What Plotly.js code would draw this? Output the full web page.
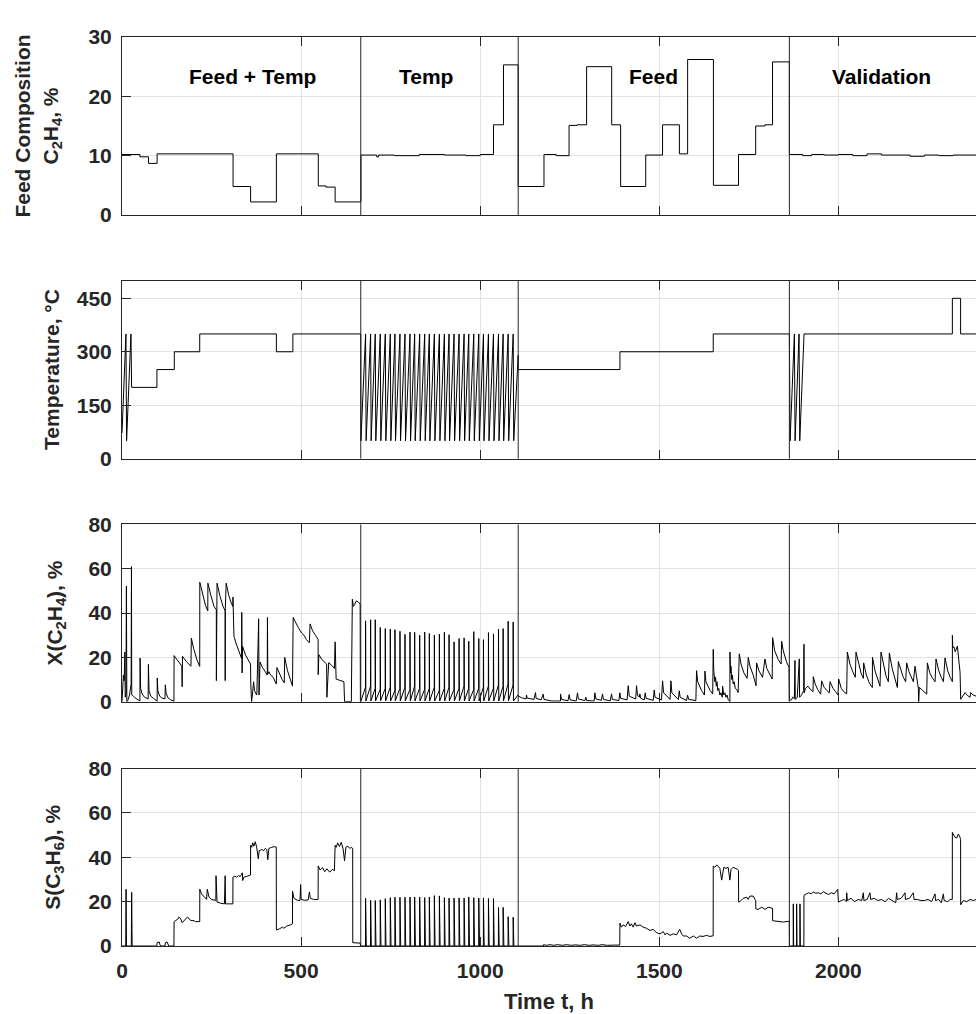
<!DOCTYPE html>
<html><head><meta charset="utf-8">
<script src="https://cdn.plot.ly/plotly-3.0.1.min.js"></script>
<style>html,body{margin:0;padding:0;background:#fff}#chart{width:976px;height:1014px}</style>
</head><body><div id="chart"></div>
<script>
// ---------- phases ----------
const phaseBounds = [666.5, 1106, 1863];
const phaseLabels = ['Feed + Temp', 'Temp', 'Feed', 'Validation'];
const phaseLabelTime = [364, 850, 1483, 2121];
const xTicks = [0, 500, 1000, 1500, 2000];

// ---------- panel 1: feed composition C2H4 (%), step changes [t, value] ----------
const feedComp = [[0,10.2],[50,9.8],[74,8.7],[98,10.3],[310,4.8],[359,2.2],[431,10.3],[548,4.9],[569,4.7],[595,2.2],
 [667,10.1],[711,9.8],[716,10.1],[760,10.0],[830,10.2],[900,10.1],[960,10.0],[1000,10.2],[1037,15.2],[1065,25.3],
 [1106,4.8],[1178,10.2],[1212,10.0],[1248,15.1],[1270,15.2],[1297,25.0],[1367,15.2],[1392,4.8],[1462,10.1],[1509,15.2],
 [1556,10.3],[1579,26.2],[1651,5.0],[1721,10.2],[1769,15.0],[1795,15.2],[1816,25.8],
 [1863,10.2],[1900,10.0],[1925,10.2],[1960,10.1],[2000,10.2],[2040,10.0],[2080,10.3],[2120,10.1],[2160,10.1],[2200,9.9],
 [2240,10.1],[2280,10.0],[2320,10.1],[2384,10.1]];

// ---------- panel 2: temperature (°C) ----------
const tempFeedTemp = [[0,72],[11,350],[12.8,50],[25,350],[26.8,200],[97.5,200],[97.5,250],[146,250],[146,300],[217,300],
 [217,350],[431,350],[431,300],[477,300],[477,350],[666.5,350]];
const tempTemp = [[667,50],[680,350],[681.5,50],[694,350],[695.5,50],[707,350],[708.5,50],[721,350],[722.5,50],[735,350],[736.5,50],
 [749,350],[750.5,50],[762,350],[763.5,50],[776,350],[777.5,50],[790,350],[791.5,50],[804,350],[805.5,50],[817,350],[818.5,50],
 [831,350],[832.5,50],[845,350],[846.5,50],[858,350],[859.5,50],[872,350],[873.5,50],[886,350],[887.5,50],[900,350],[901.5,50],
 [913,350],[914.5,50],[927,350],[928.5,50],[941,350],[942.5,50],[955,350],[956.5,50],[968,350],[969.5,50],[982,350],[983.5,50],
 [996,350],[997.5,50],[1009,350],[1010.5,50],[1023,350],[1024.5,50],[1037,350],[1038.5,50],[1051,350],[1052.5,50],
 [1064,350],[1065.5,50],[1078,350],[1079.5,50],[1092,350],[1093.5,50],[1106,290]];
const tempFeed = [[1106,250],[1390,250],[1390,300],[1650.5,300],[1650.5,350],[1863,350]];
const tempValid = [[1865,50],[1877,350],[1879,50],[1890,350],[1892,50],[1904,350],[2318,350],[2318,450],[2341,450],[2341,350],[2384,350]];

// ---------- panel 3: conversion X(C2H4) (%) ----------
const convFeedTemp = [[0,0],[2,10],[4,12],[6,9.5],[8,22.4],[9,2],[11,3],[12.3,52.2],[13.5,0],[16,0.5],[21,3],[25.5,8],[26.4,61],
 [27.2,3],[30,2.8],[36,1.8],[45,0.8],[50,0.3],[50.5,19.7],[52,6],[56,3.5],[63,2],[73,1.2],[73.7,16.8],[75.5,5],[80,2.5],[88,1.5],
 [95,0.3],[98,0.2],[98.4,10.7],[100,5],[105,2.5],[112,1.6],[120,1.3],[120.9,7.6],[123,4],[128,1.8],[136,0.8],[145,0.2],
 [145.4,20.8],[155,18.8],[167,16],[168,6.7],[168.8,20.5],[180,18],[192.5,16],[193.6,28.7],[200,24],[210,18.5],[217,15.9],
 [217.2,53.9],[225,48],[233,43.5],[239.5,41],[239.8,53.5],[248,48],[257,43],[263.3,41.5],[263.5,9.5],[263.8,41.5],[265.3,53.5],
 [273,48],[282,43],[288,41],[288.1,9.5],[288.4,42],[290.8,53.5],[298,48],[305,44.5],[309.5,43],[309.7,47.2],[312.6,29.5],
 [318,26.5],[326,23],[334,19.4],[334.3,40.3],[335.2,13],[336.5,25],[345,21],[352,19],[358.8,17],[359.5,8],[361.7,0],[364,3],
 [367.3,9],[370,5],[375.8,3],[376.5,3.5],[381.5,37.4],[382.5,3],[384,10],[385.3,17.9],[392,15.5],[400,13.5],[405.5,12],
 [406,38],[407,12.5],[410,13.5],[415,12],[422,11],[430.6,8],[432.5,15.4],[440,12.5],[447,10],[453,8.5],[454.2,20],[462,14],
 [470,9.5],[476,7],[477.8,38],[485,35.5],[492,33.5],[501.4,31],[508,30],[515,28],[523,26.6],[525,35.1],[532,32],[540,30],
 [547.5,28.1],[547.7,12.2],[549.6,21.2],[558,19],[565,18],[571.3,17],[572,2],[577,17.6],[585,16.5],[593,15],[595,27],
 [597.7,10.2],[605,9.8],[612,9.5],[619.5,9],[621.3,0],[640.2,0],[643,46.3],[646,43],[650,44],[654,45.5],[660,45],[664.8,44],
 [665.5,0.5],[666.5,0]];
const convTemp = [[667,0.3],[679.7,6.5],[680,36.5],[680.8,0.3],[693.7,7],[694,37],[694.8,0.3],[706.7,6],[707,37],[707.8,0.3],
 [720.7,5.5],[721,33.5],[721.8,0.3],[734.7,6],[735,33],[735.8,0.3],[748.7,6.5],[749,32.8],[749.8,0.3],[761.7,5],[762,32.5],[762.8,0.3],
 [775.7,6],[776,31.8],[776.8,0.3],[789.7,6.5],[790,30.4],[790.8,0.3],[803.7,5.5],[804,31.4],[804.8,0.3],[816.7,7],[817,31.3],[817.8,0.3],
 [830.7,6],[831,30],[831.8,0.3],[844.7,5.5],[845,31.4],[845.8,0.3],[857.7,6],[858,30.8],[858.8,0.3],[871.7,6.5],[872,30],[872.8,0.3],
 [885.7,5],[886,30.5],[886.8,0.3],[899.7,6],[900,31.3],[900.8,0.3],[912.7,6.5],[913,30.2],[913.8,0.3],[926.7,5.5],[927,27],[927.8,0.3],
 [940.7,6],[941,28.5],[941.8,0.3],[954.7,7],[955,28.8],[955.8,0.3],[967.7,6],[968,27.3],[968.8,0.3],[981.7,5.5],[982,31.6],[982.8,0.3],
 [995.7,6],[996,28.5],[996.8,0.3],[1008.7,6.5],[1009,28],[1009.8,0.3],[1022.7,7],[1023,31.2],[1023.8,0.3],[1036.7,6],[1037,30.6],[1037.8,0.3],
 [1050.7,7.5],[1051,32.8],[1051.8,0.3],[1063.7,7],[1064,33],[1064.8,0.3],[1077.7,8],[1078,36.3],[1078.8,0.3],[1091.7,7.5],[1092,36],[1092.8,0.3],
 [1105.5,3]];
const convFeed = [[1106,2.6],[1115,1.8],[1128,1.2],[1129.2,3.0],[1131,1.6],[1150,1.0],[1154.3,4.1],[1156,1.5],[1170,0.8],[1175.7,3.4],
 [1178,1.0],[1200,0.3],[1224,0.3],[1224.1,3.5],[1227,1.0],[1245,0.4],[1248.3,3.2],[1251,0.8],[1268,0.3],[1271.6,4.0],[1274,1.2],
 [1292,0.5],[1294.9,2.0],[1297,0.5],[1318,0.3],[1320,4.0],[1323,1.2],[1338,0.6],[1341.4,3.5],[1344,1.0],[1363,0.4],[1366.6,3.5],
 [1369,1.0],[1387,0.5],[1389.9,4.0],[1392,1.5],[1410,0.8],[1413.1,7.2],[1416,2.5],[1434,1.2],[1436.4,7.2],[1439,3],[1444,2],
 [1445.7,3.5],[1448,1.5],[1458,0.8],[1460.6,4.0],[1463,1.5],[1483,0.6],[1485.8,5.3],[1488,2],[1506,0.8],[1509,9.4],[1512,4],
 [1530,1],[1532.3,9.4],[1535,4],[1553,1],[1555.6,4.9],[1558,2],[1576,0.5],[1578.9,2.9],[1582,1],[1602,0.5],[1604,14.0],[1607,9],
 [1618,5],[1626,3],[1627.3,13.8],[1630,9],[1642,5],[1649,3.5],[1650.5,23.6],[1652,14],[1653,10],[1654,13],[1655,9],[1657,11],
 [1659,7],[1661,9],[1663,5],[1666,6],[1669,3],[1672,4],[1676,2],[1676.6,7],[1680,3],[1683,4],[1686,2],[1689,3],[1692,1],[1697,0],
 [1697.1,22.4],[1699,13],[1700,16],[1702,10],[1704,12],[1706,8],[1709,9],[1712,6],[1716,5.5],[1720,4.1],[1723.2,21.6],[1728,17],
 [1736,13],[1745,10.5],[1748.3,20],[1753,16],[1762,12],[1770,7.2],[1771.6,17.5],[1778,14],[1788,11],[1794.8,19.3],[1800,15],
 [1808,12],[1815,10.2],[1816.3,28.9],[1822,23],[1832,19],[1840,17],[1841.4,27.3],[1846,23],[1855,18],[1862,15.5],[1862.8,0.5]];
const convValid = [[1870,1],[1872,2],[1877,1.5],[1878.6,18.6],[1879.5,1],[1885,2],[1890.7,19.3],[1891.5,2],[1897,3],[1903,5],
 [1903.8,25.9],[1904.5,4],[1908,6],[1915,7],[1922,5.5],[1929,4.5],[1929.8,11.3],[1935,8],[1942,5.5],[1950.3,3.4],[1953.1,9.4],
 [1960,6.5],[1968,5],[1974.5,4],[1976.4,9],[1985,6],[1992,4.5],[1998.7,3],[2000.6,10.2],[2008,6],[2015,4.5],[2023,3.5],
 [2024.8,22.4],[2032,17],[2040,13.5],[2047.1,11],[2049,22.4],[2056,17],[2063,13],[2069.5,10.5],[2070.4,17.5],[2078,12],
 [2086,8.5],[2094.6,6.4],[2095,20.1],[2102,14],[2110,9.5],[2116,7],[2118.8,22.4],[2126,16],[2133,11.5],[2139.3,9],[2142.1,22],
 [2150,15],[2158,9.5],[2164.5,6.4],[2167.2,18.1],[2174,14],[2181,11],[2187.7,9],[2190.5,17.5],[2197,13.5],[2204,10.5],
 [2209.1,9],[2213.8,16],[2219,10],[2223.1,6],[2224,0],[2225.9,6.5],[2235,5],[2246.4,3.4],[2248.2,17.5],[2255,13],[2263,10.5],
 [2269.7,9],[2272.4,19.3],[2280,14],[2287,11],[2293,9],[2297.6,19.8],[2305,14],[2312,11],[2318,9],[2318.1,30],[2319,24.5],
 [2322.7,24.7],[2326,22.5],[2332,25.1],[2336,19],[2339.5,13.3],[2341.3,1.1],[2348,2.5],[2353.4,4.1],[2360,2.8],[2367.4,2],
 [2369.3,4.1],[2376,3],[2384.2,2.5]];

// ---------- panel 4: selectivity S(C3H6) (%) ----------
const selFeedTemp = [[0,0],[10.5,0],[11.3,25.6],[12.5,0],[26,0],[27,24.2],[28.3,0],[97,0],[98,1.5],[104,1.8],[106,0.5],[108,0],
 [120,0],[121,1.5],[126,1.8],[129,0.5],[130.5,0],[145,0],[145.4,11],[150,11.5],[155,12],[158.6,13],[163,12.5],[168.1,10.5],
 [172.8,11.4],[177,12],[182.2,13],[187,12.5],[191.7,11.5],[201.1,11.4],[205,11],[217,11],[217.2,25.6],[222,23.5],[229.5,22.1],
 [236.1,21],[238,25.6],[243,22],[250,21],[262,20.6],[262.5,31.7],[263.5,20],[265.3,19.8],[275,19.3],[286,19],[288,31.7],[289,19],
 [300,19],[309.5,19],[309.7,31],[315,31.5],[320,31],[325,31.8],[330,31.3],[336,33],[337,29.5],[340,31],[350,31.5],[358.8,32],
 [359,45.5],[362,44.5],[365,46.5],[368,45],[372,47],[376,44.5],[380.5,39.3],[383,43],[390,43.5],[395,43],[400,44],[404.2,43.5],
 [407,38.9],[410,44],[418,44.5],[425,44.8],[430.6,44.6],[431,7.2],[440,7.8],[448,8.5],[452,8],[460,9],[470,9.5],[475.9,10],
 [476,24.7],[480,21.5],[490,20.6],[497,20.6],[498.6,27.7],[500,21],[510,20.6],[520,20.8],[523.1,24.4],[526,21.5],[535,21],
 [547.5,21],[547.7,36.1],[553,34.3],[560,35.3],[566,33.5],[572,34.8],[580,33.3],[587,34.5],[593,34],[594.9,45.4],[598,44.5],
 [602,46.5],[607,44.8],[612,46.8],[617,44],[621.3,38.4],[625,44.5],[630.8,45],[636,44],[640.2,44.5],[644,44],[644.2,1.5],
 [664.8,1.3],[666,0]];
const selTemp = [[679.7,0],[680,21.5],[682,0],[693.7,0],[694,20.6],[696,0],[706.7,0],[707,20.5],[709,0],[720.7,0],[721,20.8],[723,0],
 [734.7,0],[735,21.3],[737,0],[748.7,0],[749,21.8],[751,0],[761.7,0],[762,22],[764,0],[775.7,0],[776,22],[778,0],[789.7,0],[790,22],[792,0],
 [803.7,0],[804,22.1],[806,0],[816.7,0],[817,22.1],[819,0],[830.7,0],[831,22.1],[833,0],[844.7,0],[845,21.8],[847,0],[857.7,0],[858,22.1],[860,0],
 [871.7,0],[872,22.7],[874,0],[885.7,0],[886,22.6],[888,0],[899.7,0],[900,21.8],[902,0],[912.7,0],[913,21.6],[915,0],[926.7,0],[927,21.6],[929,0],
 [940.7,0],[941,21.7],[943,0],[954.7,0],[955,21.6],[957,0],[967.7,0],[968,22.1],[970,0],[981.7,0],[982,21.8],[984,0],[995.7,0],[996,21.6],[998,0],
 [1008.7,0],[1009,21.7],[1011,0],[1022.7,0],[1023,21.4],[1025,0],[1036.7,0],[1037,21.4],[1039,0],[1050.7,0],[1051,17.4],[1053,0],
 [1063.7,0],[1064,17.4],[1066,0],[1077.7,0],[1078,13.2],[1080,0],[1091.7,0],[1092,13],[1094,0],[1106,0]];
const selFeed = [[1176,0],[1177,0.6],[1185,0.3],[1195,0.6],[1205,0.3],[1215,0.6],[1230,0.3],[1240,0.6],[1255,0.3],[1265,0.5],
 [1280,0.3],[1290,0.6],[1305,0.3],[1315,0.5],[1330,0.3],[1340,0.6],[1355,0.3],[1375,0.4],[1389.5,0.4],[1390,10.3],[1394,8.5],
 [1399,9.5],[1406,8.8],[1413,11],[1418,9],[1422,10],[1427,8.5],[1432,10.5],[1436,9],[1446,9.5],[1455,8.5],[1464,8],[1474,7],
 [1483,7.5],[1492,6],[1502,5.5],[1511,6.5],[1516,5],[1520,5.8],[1530,4.8],[1539,5.5],[1548,5],[1557,7.5],[1562,5.5],[1567,4.5],
 [1576,4.5],[1585,3.5],[1595,4.5],[1604,3.5],[1613,4.5],[1622,4.3],[1632,4.8],[1641,4.3],[1650.3,4.6],[1650.5,36],[1655,35.5],
 [1660,36.5],[1664,36],[1669,35],[1674,29.7],[1677,34],[1680,35.5],[1686,35],[1692,35.5],[1697,29.7],[1700,34.5],[1706,35.5],
 [1714,35],[1719,34.5],[1721,34],[1721.3,19.8],[1725,20],[1734,21.5],[1744,22],[1748,21],[1753,22.5],[1762,22.5],[1767,21],
 [1769,20.5],[1769.5,16.7],[1776,16.5],[1786,17.5],[1795,16.5],[1804,17.5],[1813,17],[1816,17],[1816.3,11.4],[1837,11],
 [1846,10.8],[1862.8,11.2]];
const selValid = [[1863.3,0],[1873.7,0],[1874,19],[1875,0],[1883,0],[1883.3,19],[1884.3,0],[1892.3,0],[1892.6,19],[1893.6,0],
 [1903.5,0],[1903.8,22.8],[1910,23.5],[1917,24],[1924,23.5],[1930,24.3],[1937,23.8],[1944,24],[1951,23.5],[1958,24.5],[1965,23.8],
 [1972,23.2],[1980,24],[1988,23.5],[1998,25.5],[2000,19.8],[2008,20.5],[2016,21],[2022,20],[2023,24],[2025,20.5],[2035,21.5],
 [2045,20],[2055,21],[2065,20.5],[2069.5,24],[2071,20.5],[2080,21],[2088,24],[2090,21],[2100,21.5],[2110,20.5],[2120,21],
 [2130,20],[2140,21.5],[2150,20.5],[2160,19.5],[2162.5,24],[2164,21],[2175,21.5],[2185.9,24],[2187,21],[2198,21.5],[2209,24],
 [2211,21],[2220,21],[2230,20.5],[2240,20.5],[2250,21],[2260,20],[2269.7,23.5],[2271,20.5],[2280,21],[2287,19.5],[2293,23.5],
 [2295,20.5],[2305,20],[2312,21],[2317.8,21],[2318,51.2],[2325.5,49],[2330,48.7],[2334.8,50.5],[2339.5,49],[2341,48],
 [2341.3,18.6],[2348.8,20.5],[2358,20],[2367.4,21],[2376.7,20.5],[2384,21]];

// ---------- build ----------
const FONT = 'Liberation Sans, Arial, Helvetica, sans-serif';
const INK = '#262626';
const GRID = '#e3e3e3';
function xs(a){return a.map(p=>p[0]);}
function ys(a){return a.map(p=>p[1]);}
const panels = [
  {pts: feedComp, shape: 'hv'},
  {pts: tempFeedTemp.concat(tempTemp, tempFeed, tempValid), shape: 'linear'},
  {pts: convFeedTemp.concat(convTemp, convFeed, convValid), shape: 'linear'},
  {pts: selFeedTemp.concat(selTemp, selFeed, selValid), shape: 'linear'}
];
const traces = panels.map((p,i)=>({
  type:'scatter', mode:'lines', x: xs(p.pts), y: ys(p.pts),
  xaxis: 'x'+(i+1), yaxis: 'y'+(i+1),
  line:{color:'#000', width:1, shape:p.shape}, hoverinfo:'skip', showlegend:false
}));

const domains = [[0.8042,1.0],[0.5362,0.7321],[0.2688,0.4637],[0,0.1952]];
const yRanges = [[0,30],[0,500],[0,80],[0,80]];
const yTicks = [[0,10,20,30],[0,150,300,450],[0,20,40,60,80],[0,20,40,60,80]];
const yTitles = ['Feed Composition<br>C<sub>2</sub>H<sub>4</sub>, %', 'Temperature, °C',
  'X(C<sub>2</sub>H<sub>4</sub>), %', 'S(C<sub>3</sub>H<sub>6</sub>), %'];
const yStand = [24, 11, 20, 22];

const tickFont = {family:FONT, size:21, color:INK, weight:'bold'};
const layout = {
  width:976, height:1014,
  margin:{l:122, r:0, t:37, b:68},
  paper_bgcolor:'#fff', plot_bgcolor:'#fff',
  showlegend:false,
  shapes:[], annotations:[]
};
for(let i=0;i<4;i++){
  const n = i+1;
  const xa = {
    domain:[0,1], range:[0,2384], anchor:'y'+n,
    tickvals:xTicks, ticktext:xTicks.map(String),
    showticklabels: i===3, ticks:'inside', ticklen:9, tickwidth:1, tickcolor:INK,
    showline:true, linecolor:INK, linewidth:1, mirror:'ticks',
    showgrid:true, gridcolor:GRID, gridwidth:1, zeroline:false,
    tickfont:tickFont, ticklabelstandoff:6, automargin:false
  };
  if(i===3) xa.title = {text:'Time t, h', font:{family:FONT, size:22, color:INK, weight:'bold'}, standoff:12};
  layout['xaxis'+n] = xa;
  layout['yaxis'+n] = {
    domain:domains[i], range:yRanges[i], anchor:'x'+n,
    tickvals:yTicks[i], ticks:'inside', ticklen:9, tickwidth:1, tickcolor:INK,
    showline:true, linecolor:INK, linewidth:1, mirror:false,
    showgrid:true, gridcolor:GRID, gridwidth:1, zeroline:false,
    tickfont:tickFont, ticklabelstandoff:5, automargin:true,
    title:{text:yTitles[i], font:{family:FONT, size:21, color:INK, weight:'bold'}, standoff:yStand[i]}
  };
  phaseBounds.forEach(b=>{
    layout.shapes.push({type:'line', xref:'x'+n, yref:'y'+n+' domain', x0:b, x1:b, y0:0, y1:1,
      line:{color:INK, width:1}});
  });
}
phaseLabels.forEach((t,k)=>{
  layout.annotations.push({text:t, xref:'x1', yref:'y1', x:phaseLabelTime[k], y:23.4,
    showarrow:false, xanchor:'center', yanchor:'middle',
    font:{family:FONT, size:21, color:'#000', weight:'bold'}});
});

Plotly.newPlot('chart', traces, layout, {displayModeBar:false, staticPlot:true});
</script>
</body></html>
